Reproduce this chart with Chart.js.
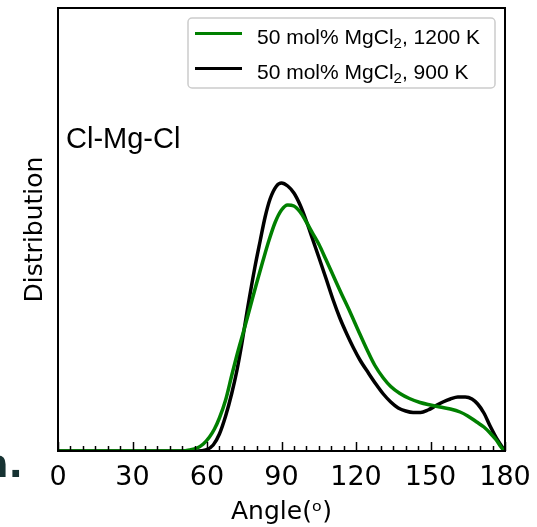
<!DOCTYPE html>
<html>
<head>
<meta charset="utf-8">
<script src="https://cdn.jsdelivr.net/npm/chart.js@4/dist/chart.umd.min.js"></script>
<style>
  html, body { margin: 0; padding: 0; background: #fff; }
  #wrap { width: 537px; height: 527px; position: relative; }
</style>
</head>
<body>
<div id="wrap"><canvas id="chart"></canvas></div>
<script>
// Cl-Mg-Cl angle distributions (arbitrary units)
const angles1200 = [0, 50, 53, 56, 58.5, 61, 63, 65, 67.5, 70, 72.5, 75, 77.5, 80, 82.5, 85, 87.5, 90, 92.5, 95, 97.5, 100, 102.5, 105, 107.8, 110.9, 114, 117.6, 121, 124.3, 127.5, 131, 134, 137.7, 141.5, 145.8, 150, 153.8, 158, 161.9, 165, 168.6, 171.5, 174, 176.5, 178.7, 180];
const dist1200   = [0, 0, 0.01, 0.03, 0.07, 0.14, 0.22, 0.33, 0.51, 0.76, 1.0, 1.22, 1.45, 1.68, 1.9, 2.11, 2.29, 2.41, 2.46, 2.45, 2.39, 2.29, 2.18, 2.07, 1.92, 1.75, 1.58, 1.39, 1.2, 1.02, 0.86, 0.73, 0.645, 0.575, 0.525, 0.485, 0.46, 0.44, 0.42, 0.39, 0.35, 0.29, 0.24, 0.18, 0.11, 0.03, 0];

const angles900 = [0, 50, 56, 59.5, 62.5, 65, 67.5, 70, 72, 74, 76.3, 79.3, 81.4, 83.4, 85.4, 88, 90, 92.5, 95, 97.5, 100, 102.5, 105, 108, 110.8, 113.5, 116.3, 119, 121.6, 125, 128, 131, 134, 137, 140, 143, 146, 149, 152, 155, 158, 161, 164, 166.7, 169, 171.5, 174, 177, 180];
const dist900   = [0, 0, 0, 0.01, 0.06, 0.17, 0.35, 0.58, 0.8, 1.07, 1.42, 1.84, 2.1, 2.34, 2.52, 2.65, 2.68, 2.65, 2.58, 2.46, 2.3, 2.12, 1.94, 1.72, 1.51, 1.33, 1.17, 1.03, 0.91, 0.78, 0.67, 0.57, 0.49, 0.43, 0.4, 0.385, 0.385, 0.41, 0.45, 0.49, 0.52, 0.54, 0.54, 0.52, 0.47, 0.38, 0.25, 0.11, 0];

const seriesLabels = ['50 mol% MgCl₂, 1200 K', '50 mol% MgCl₂, 900 K'];
const seriesColors = ['#008000', '#000000'];
const xTickStep = 5, xMajorStep = 30;
const xMin = 0, xMax = 180, yMax = 4.43;

const toPoints = (xs, ys) => xs.map((x, i) => ({ x, y: ys[i] }));

// draws the full frame, inward ticks, legend box and text annotations
const decorations = {
  id: 'decorations',
  afterDraw(chart){
    const ctx = chart.ctx;
    const { left, right, top, bottom } = chart.chartArea;
    const xs = chart.scales.x;
    ctx.save();
    ctx.strokeStyle = '#000';
    ctx.lineWidth = 2;
    ctx.strokeRect(left, top, right - left, bottom - top);

    ctx.lineWidth = 1.5;
    xs.ticks.forEach(t => {
      const px = Math.round(xs.getPixelForValue(t.value)) + 0.5;
      const len = t.value % xMajorStep === 0 ? 9 : 5;
      ctx.beginPath(); ctx.moveTo(px, bottom); ctx.lineTo(px, bottom - len); ctx.stroke();
    });

    // legend
    const bx = 188, by = 18, bw = 307, bh = 70;
    ctx.fillStyle = 'rgba(255,255,255,0.8)';
    ctx.strokeStyle = '#cccccc';
    ctx.lineWidth = 1.5;
    ctx.beginPath(); ctx.roundRect(bx, by, bw, bh, 4); ctx.fill(); ctx.stroke();
    chart.data.datasets.forEach((ds, i) => {
      const ly = 33.5 + i * 35;
      ctx.strokeStyle = ds.borderColor; ctx.lineWidth = 3;
      ctx.beginPath(); ctx.moveTo(195, ly); ctx.lineTo(242, ly); ctx.stroke();
      const [pre, post] = ds.label.split('₂');
      const base = ly + 10;
      ctx.fillStyle = '#000';
      ctx.textBaseline = 'alphabetic'; ctx.textAlign = 'left';
      ctx.font = '21px "Liberation Sans", Arial, sans-serif';
      let x = 257;
      ctx.fillText(pre, x, base); x += ctx.measureText(pre).width;
      ctx.font = '15px "Liberation Sans", Arial, sans-serif';
      ctx.fillText('2', x, base + 4); x += ctx.measureText('2').width;
      ctx.font = '21px "Liberation Sans", Arial, sans-serif';
      ctx.fillText(post, x, base);
    });

    ctx.font = '29px "Liberation Sans", Arial, sans-serif';
    ctx.fillStyle = '#000';
    ctx.fillText('Cl-Mg-Cl', 66, 148);

    // clipped panel letter from the neighbouring figure
    ctx.font = 'bold 38px "DejaVu Sans", sans-serif';
    ctx.fillStyle = '#163232';
    ctx.textAlign = 'right';
    ctx.fillText('n.', 23, 477);
    ctx.restore();
  }
};

new Chart(document.getElementById('chart'), {
  type: 'line',
  data: {
    datasets: [
      { label: seriesLabels[0], data: toPoints(angles1200, dist1200), borderColor: seriesColors[0], borderWidth: 3.5, pointRadius: 0, cubicInterpolationMode: 'monotone' },
      { label: seriesLabels[1], data: toPoints(angles900, dist900), borderColor: seriesColors[1], borderWidth: 3.5, pointRadius: 0, cubicInterpolationMode: 'monotone' }
    ]
  },
  options: {
    responsive: true,
    maintainAspectRatio: false,
    animation: false,
    layout: { autoPadding: false, padding: { top: 8, right: 32, left: 0, bottom: 0 } },
    plugins: { legend: { display: false }, tooltip: { enabled: false } },
    scales: {
      x: {
        type: 'linear', min: xMin, max: xMax,
        grid: { display: false, drawTicks: false },
        border: { display: false },
        ticks: {
          stepSize: xTickStep, autoSkip: false, maxRotation: 0, padding: 11,
          color: '#000', font: { family: '"DejaVu Sans"', size: 27 },
          callback: v => (v % xMajorStep === 0 ? String(v) : '')
        },
        title: { display: true, text: 'Angle(ᵒ)', color: '#000', font: { family: '"DejaVu Sans"', size: 25 }, padding: { bottom: 0 } },
        afterFit: s => { s.height = 76; s.paddingLeft = 0; s.paddingRight = 0; }
      },
      y: {
        min: 0, max: yMax,
        grid: { display: false, drawTicks: false },
        border: { display: false },
        ticks: { display: false },
        title: { display: true, text: 'Distribution', color: '#000', font: { family: '"DejaVu Sans"', size: 25 }, padding: { top: 20 } },
        afterFit: s => { s.width = 58; }
      }
    }
  },
  plugins: [decorations]
});
</script>
</body>
</html>
